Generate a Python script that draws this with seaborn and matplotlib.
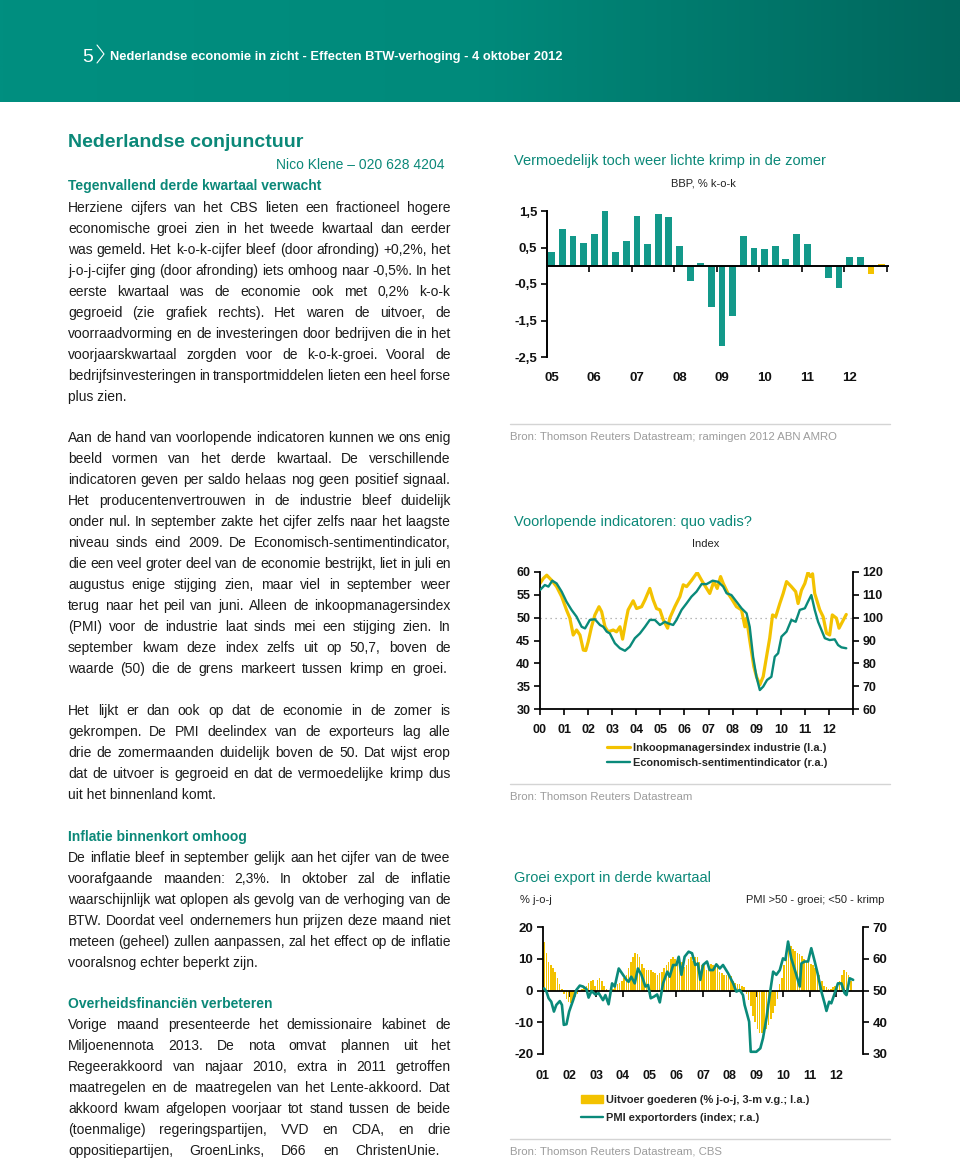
import numpy as np
import pandas as pd
import matplotlib
matplotlib.use("Agg")
import matplotlib.pyplot as plt
import seaborn as sns
from matplotlib.lines import Line2D
from matplotlib.patches import Patch
from matplotlib.colors import LinearSegmentedColormap

# ---------------- data ----------------
# Chart 1: BBP % k-o-k, quarterly 2005K1 - 2012K4
quarters = [f"{y}K{q}" for y in range(2005, 2013) for q in range(1, 5)]
bbp = [0.37, 1.02, 0.81, 0.62, 0.86, 1.52, 0.39, 0.69,
       1.35, 0.60, 1.42, 1.33, 0.53, -0.41, 0.08, -1.14,
       -2.20, -1.37, 0.81, 0.50, 0.47, 0.55, 0.18, 0.88,
       0.60, 0.00, -0.34, -0.61, 0.25, 0.25, -0.22, 0.04]
bbp_kind = ["realisatie"] * 30 + ["raming"] * 2
year_labels_1 = ["05", "06", "07", "08", "09", "10", "11", "12"]
ytick_vals_1 = [-2.5, -1.5, -0.5, 0.5, 1.5]
ytick_labs_1 = ["-2,5", "-1,5", "-0,5", "0,5", "1,5"]

# Chart 2: PMI industrie (l.a.) and ESI (r.a.)
pmi_t = [2000.0, 2000.14, 2000.28, 2000.48, 2000.69, 2000.9, 2001.1, 2001.24, 2001.38, 2001.52,
         2001.66, 2001.8, 2001.9, 2002.0, 2002.14, 2002.28, 2002.45, 2002.56, 2002.7, 2002.83,
         2003.04, 2003.18, 2003.32, 2003.43, 2003.56, 2003.66, 2003.87, 2004.01, 2004.22, 2004.36,
         2004.56, 2004.7, 2004.84, 2004.98, 2005.12, 2005.3, 2005.39, 2005.6, 2005.81, 2005.95,
         2006.09, 2006.3, 2006.53, 2006.71, 2006.92, 2007.05, 2007.22, 2007.36, 2007.5, 2007.61,
         2007.81, 2007.95, 2008.16, 2008.37, 2008.51, 2008.58, 2008.71, 2008.88, 2008.99, 2009.13,
         2009.27, 2009.41, 2009.54, 2009.66, 2009.79, 2009.96, 2010.1, 2010.24, 2010.44, 2010.62,
         2010.72, 2010.86, 2011.0, 2011.13, 2011.23, 2011.32, 2011.41, 2011.62, 2011.76, 2011.9,
         2012.03, 2012.14, 2012.31, 2012.42, 2012.56, 2012.72]
pmi_v = [57.5, 58.6, 59.3, 58.2, 56.8, 54.6, 51.7, 49.9, 46.2, 47.3,
         46.2, 42.9, 42.8, 44.7, 48.0, 50.6, 52.4, 51.3, 48.0, 46.9,
         47.3, 46.9, 48.0, 45.3, 49.1, 51.7, 53.7, 52.0, 52.4, 53.9,
         56.4, 53.9, 52.0, 51.7, 49.5, 47.7, 49.9, 52.4, 54.6, 57.2,
         56.8, 58.2, 59.9, 58.2, 56.4, 55.3, 57.9, 56.4, 59.0, 57.5,
         55.3, 54.2, 52.4, 51.7, 48.0, 49.9, 45.1, 39.3, 37.1, 35.3,
         37.1, 41.5, 45.5, 50.6, 50.2, 53.1, 55.3, 57.9, 56.8, 55.7,
         53.1, 56.0, 57.5, 59.9, 59.0, 59.6, 55.3, 51.7, 50.2, 46.6,
         46.2, 50.6, 49.9, 47.7, 49.1, 50.7]
esi_t = [2000.0, 2000.2, 2000.35, 2000.51, 2000.69, 2000.9, 2001.1, 2001.31, 2001.52, 2001.73,
         2001.87, 2002.07, 2002.28, 2002.49, 2002.63, 2002.77, 2002.9, 2003.11, 2003.32, 2003.53,
         2003.73, 2003.94, 2004.15, 2004.36, 2004.56, 2004.77, 2004.98, 2005.19, 2005.32, 2005.53,
         2005.67, 2005.88, 2006.09, 2006.29, 2006.5, 2006.71, 2006.92, 2007.17, 2007.4, 2007.61,
         2007.75, 2007.95, 2008.16, 2008.37, 2008.58, 2008.71, 2008.85, 2008.99, 2009.13, 2009.27,
         2009.43, 2009.61, 2009.75, 2009.89, 2010.03, 2010.24, 2010.44, 2010.62, 2010.79, 2011.0,
         2011.13, 2011.27, 2011.41, 2011.55, 2011.69, 2011.83, 2012.03, 2012.24, 2012.38, 2012.52,
         2012.72]
esi_v = [112.1, 114.3, 113.6, 116.2, 115.0, 111.4, 107.0, 103.4, 100.4, 96.0,
         95.3, 99.0, 99.3, 96.8, 96.0, 93.9, 93.1, 88.8, 86.6, 85.5,
         87.3, 91.0, 93.1, 96.0, 99.0, 99.0, 96.8, 98.2, 97.5, 96.8,
         99.0, 103.4, 106.3, 109.2, 111.4, 114.7, 114.7, 116.2, 115.7, 113.6,
         110.7, 109.9, 107.0, 104.1, 101.9, 96.0, 82.9, 74.1, 68.3, 69.8,
         72.7, 74.1, 82.9, 84.4, 91.7, 93.9, 99.0, 98.2, 103.4, 104.1,
         107.0, 109.9, 103.4, 98.2, 94.6, 91.0, 90.2, 90.5, 88.0, 87.0,
         86.6]
year_labels_2 = ["00", "01", "02", "03", "04", "05", "06", "07", "08", "09", "10", "11", "12"]

# Chart 3: export growth (monthly, l.a.) and PMI export orders (r.a.)
export_months = pd.date_range("2001-01-01", "2012-07-01", freq="MS")
export_v = [15.5, 12, 9.2, 8.1, 7, 6, 4, 2, 0.5, -1, -2.5, -3.5,
            -4, -3.5, -2, -1, -0.5, 0.5, 1, 1.5, 2.5, 3, 3.5, 1.5,
            3.5, 4, 3, 1.5, 0.5, 0, -0.5, 0.5, 1.5, 2, 2.5, 3,
            4, 5, 7, 9, 10.5, 11.8, 11.5, 10.5, 8.5, 7, 6.5, 6.5,
            6.5, 6, 5.5, 5, 5.5, 6, 7, 8, 9, 10, 10.5, 10,
            10.5, 10.5, 9, 7.5, 8, 10, 10.5, 9.5, 10.5, 10.5, 9, 8,
            8, 6.5, 8, 8.5, 8, 7, 7.5, 6, 5.5, 5, 5, 4.5,
            4.5, 3, 2.5, 2, 2, 1.5, 1, -1, -3, -5, -8, -10,
            -12, -13.5, -13.5, -13, -12, -11, -9, -7, -5, -2.5, 2, 4,
            8, 12, 14.5, 14, 13, 12.5, 12, 11.5, 11, 10, 9.5, 9,
            8.5, 8, 7, 6, 5, 3, 1.5, 1, 0.5, 0.5, 1, 1.5,
            2, 3, 5, 6.5, 6, 5, 3]
pmix_t = [2001.04, 2001.13, 2001.21, 2001.31, 2001.41, 2001.5, 2001.63, 2001.71, 2001.78, 2001.88,
          2001.98, 2002.13, 2002.25, 2002.38, 2002.5, 2002.63, 2002.71, 2002.82, 2002.96, 2003.09,
          2003.25, 2003.34, 2003.46, 2003.59, 2003.69, 2003.84, 2003.96, 2004.13, 2004.21, 2004.31,
          2004.44, 2004.56, 2004.69, 2004.84, 2004.94, 2005.04, 2005.16, 2005.28, 2005.38, 2005.5,
          2005.66, 2005.75, 2005.88, 2006.0, 2006.09, 2006.19, 2006.31, 2006.46, 2006.59, 2006.71,
          2006.81, 2006.9, 2007.0, 2007.15, 2007.25, 2007.38, 2007.5, 2007.63, 2007.75, 2007.94,
          2008.13, 2008.25, 2008.38, 2008.5, 2008.56, 2008.73, 2008.79, 2009.0, 2009.15, 2009.25,
          2009.38, 2009.5, 2009.63, 2009.75, 2009.88, 2010.0, 2010.09, 2010.19, 2010.31, 2010.5,
          2010.63, 2010.69, 2010.81, 2010.94, 2011.06, 2011.19, 2011.31, 2011.44, 2011.56, 2011.63,
          2011.73, 2011.81, 2011.94, 2012.06, 2012.19, 2012.31, 2012.38, 2012.5, 2012.63]
pmix_v = [50.7, 49.7, 47.6, 46.5, 43.4, 45.5, 46.7, 45.5, 39.2, 39.4,
          43.4, 47.0, 50.2, 51.6, 51.3, 50.5, 47.8, 49.9, 48.8, 49.2,
          47.0, 48.6, 45.7, 52.3, 51.3, 57.0, 55.5, 53.4, 52.8, 54.4,
          52.3, 57.0, 55.0, 51.3, 51.8, 47.6, 48.1, 48.8, 46.3, 52.3,
          56.0, 54.4, 58.1, 58.1, 60.7, 55.0, 60.7, 62.3, 61.8, 58.1,
          58.6, 53.4, 58.1, 59.2, 56.5, 56.5, 58.3, 57.0, 58.1, 55.5,
          52.3, 49.7, 50.2, 48.6, 45.5, 40.2, 30.7, 30.7, 31.8, 35.0,
          41.3, 48.6, 56.0, 55.0, 56.5, 60.2, 59.7, 65.5, 60.2, 55.0,
          51.3, 58.6, 59.2, 59.2, 63.4, 59.2, 55.0, 49.7, 46.0, 43.6,
          46.5, 46.0, 49.2, 52.3, 52.3, 49.2, 48.6, 53.9, 53.4]
year_labels_3 = ["01", "02", "03", "04", "05", "06", "07", "08", "09", "10", "11", "12"]

# ---------------- styling ----------------
W, H = 960, 1159
sns.set_style("white")
plt.rcParams['font.family'] = ['Liberation Sans', 'DejaVu Sans']
plt.rcParams['axes.unicode_minus'] = False
TEAL_TXT = '#0b8878'
TEAL_BAR = '#13998a'
TEAL_LINE = '#0a8a7a'
YELLOW = '#f3c200'
GREY = '#9c9c9c'
BODY = '#1c1c1c'

fig = plt.figure(figsize=(W / 100, H / 100), dpi=100)
fig.patch.set_facecolor('white')


def fx(px):
    return px / W


def fy(py):
    return 1 - py / H


# ---------------- header ----------------
axh = fig.add_axes([0, fy(102), 1, 102 / H])
cmap = LinearSegmentedColormap.from_list("hdr", ["#008f80", "#008a7b", "#00675d"])
axh.imshow(np.linspace(0, 1, 512).reshape(1, -1), aspect='auto', cmap=cmap, extent=[0, 1, 0, 1])
axh.set_axis_off()
fig.text(fx(88), fy(62), "5", color='white', fontsize=14, ha='center', va='baseline')
fig.add_artist(Line2D([fx(97), fx(104), fx(97)], [fy(45), fy(54), fy(63)], color='white', lw=0.8,
                      transform=fig.transFigure))
fig.text(fx(110), fy(60), "Nederlandse economie in zicht - Effecten BTW-verhoging - 4 oktober 2012",
         color='white', fontsize=9.3, fontweight='bold', va='baseline')

# ---------------- left column text ----------------
renderer = fig.canvas.get_renderer()
X0, X1 = 68, 450.5


def paragraph(lines, base_y, dy=21, size=10, color=BODY, last_right=None):
    for i, line in enumerate(lines):
        y = base_y + i * dy
        right = X1
        if i == len(lines) - 1:
            if last_right is None:
                fig.text(fx(X0), fy(y), line, fontsize=size, color=color, va='baseline')
                continue
            right = last_right
        words = line.split(' ')
        ts = [fig.text(0, 0, w, fontsize=size, color=color, va='baseline') for w in words]
        widths = [t.get_window_extent(renderer).width for t in ts]
        gap = (right - X0 - sum(widths)) / max(len(words) - 1, 1)
        x = X0
        for t, w in zip(ts, widths):
            t.set_position((fx(x), fy(y)))
            x += w + gap


def heading(text, y, size=10):
    fig.text(fx(X0), fy(y), text, fontsize=size, color=TEAL_TXT, fontweight='bold', va='baseline')


fig.text(fx(X0), fy(147), "Nederlandse conjunctuur", fontsize=14, color=TEAL_TXT,
         fontweight='bold', va='baseline')
fig.text(fx(445), fy(169), "Nico Klene \u2013 020 628 4204", fontsize=10, color=TEAL_TXT,
         ha='right', va='baseline')
heading("Tegenvallend derde kwartaal verwacht", 190)
paragraph([
    "Herziene cijfers van het CBS lieten een fractioneel hogere",
    "economische groei zien in het tweede kwartaal dan eerder",
    "was gemeld. Het k-o-k-cijfer bleef (door afronding) +0,2%, het",
    "j-o-j-cijfer ging (door afronding) iets omhoog naar -0,5%. In het",
    "eerste kwartaal was de economie ook met 0,2% k-o-k",
    "gegroeid (zie grafiek rechts). Het waren de uitvoer, de",
    "voorraadvorming en de investeringen door bedrijven die in het",
    "voorjaarskwartaal zorgden voor de k-o-k-groei. Vooral de",
    "bedrijfsinvesteringen in transportmiddelen lieten een heel forse",
    "plus zien.",
], 212)
paragraph([
    "Aan de hand van voorlopende indicatoren kunnen we ons enig",
    "beeld vormen van het derde kwartaal. De verschillende",
    "indicatoren geven per saldo helaas nog geen positief signaal.",
    "Het producentenvertrouwen in de industrie bleef duidelijk",
    "onder nul. In september zakte het cijfer zelfs naar het laagste",
    "niveau sinds eind 2009. De Economisch-sentimentindicator,",
    "die een veel groter deel van de economie bestrijkt, liet in juli en",
    "augustus enige stijging zien, maar viel in september weer",
    "terug naar het peil van juni. Alleen de inkoopmanagersindex",
    "(PMI) voor de industrie laat sinds mei een stijging zien. In",
    "september kwam deze index zelfs uit op 50,7, boven de",
    "waarde (50) die de grens markeert tussen krimp en groei.",
], 442, last_right=447)
paragraph([
    "Het lijkt er dan ook op dat de economie in de zomer is",
    "gekrompen. De PMI deelindex van de exporteurs lag alle",
    "drie de zomermaanden duidelijk boven de 50. Dat wijst erop",
    "dat de uitvoer is gegroeid en dat de vermoedelijke krimp dus",
    "uit het binnenland komt.",
], 715)
heading("Inflatie binnenkort omhoog", 841)
paragraph([
    "De inflatie bleef in september gelijk aan het cijfer van de twee",
    "voorafgaande maanden: 2,3%. In oktober zal de inflatie",
    "waarschijnlijk wat oplopen als gevolg van de verhoging van de",
    "BTW. Doordat veel ondernemers hun prijzen deze maand niet",
    "meteen (geheel) zullen aanpassen, zal het effect op de inflatie",
    "vooralsnog echter beperkt zijn.",
], 862)
heading("Overheidsfinanci\u00ebn verbeteren", 1008)
paragraph([
    "Vorige maand presenteerde het demissionaire kabinet de",
    "Miljoenennota 2013. De nota omvat plannen uit het",
    "Regeerakkoord van najaar 2010, extra in 2011 getroffen",
    "maatregelen en de maatregelen van het Lente-akkoord. Dat",
    "akkoord kwam afgelopen voorjaar tot stand tussen de beide",
    "(toenmalige) regeringspartijen, VVD en CDA, en drie",
    "oppositiepartijen, GroenLinks, D66 en ChristenUnie.",
], 1029, last_right=440)

# ---------------- right column titles / sources ----------------
def chart_title(text, y):
    fig.text(fx(514), fy(y), text, fontsize=10.5, color=TEAL_TXT, va='baseline')


def source(text, y):
    fig.add_artist(Line2D([fx(510), fx(890)], [fy(y - 12), fy(y - 12)], color='#d4d4d4', lw=1,
                          transform=fig.transFigure))
    fig.text(fx(510), fy(y + 4), text, fontsize=8.2, color=GREY, va='baseline')


chart_title("Vermoedelijk toch weer lichte krimp in de zomer", 165)
fig.text(fx(703), fy(187), "BBP, % k-o-k", fontsize=8, color='#222222', ha='center', va='baseline')
source("Bron: Thomson Reuters Datastream; ramingen 2012 ABN AMRO", 436)

chart_title("Voorlopende indicatoren: quo vadis?", 526)
fig.text(fx(706), fy(547), "Index", fontsize=8, color='#222222', ha='center', va='baseline')
source("Bron: Thomson Reuters Datastream", 796)

chart_title("Groei export in derde kwartaal", 882)
fig.text(fx(520), fy(903), "% j-o-j", fontsize=8, color='#222222', va='baseline')
fig.text(fx(884), fy(903), "PMI >50 - groei; <50 - krimp", fontsize=8, color='#222222',
         ha='right', va='baseline')
source("Bron: Thomson Reuters Datastream, CBS", 1151)


def bold_ticks(ax, size):
    for lab in ax.get_xticklabels() + ax.get_yticklabels():
        lab.set_fontweight('bold')
        lab.set_fontsize(size)
        lab.set_color('#111111')


# ---------------- chart 1 ----------------
ax1 = fig.add_axes([fx(547), fy(357), (888 - 547) / W, (357 - 211) / H])
df1 = pd.DataFrame({"kwartaal": quarters, "bbp": bbp, "soort": bbp_kind})
sns.barplot(data=df1, x="kwartaal", y="bbp", hue="soort", dodge=False, legend=False,
            palette={"realisatie": TEAL_BAR, "raming": YELLOW}, width=0.64, saturation=1,
            linewidth=0, edgecolor='none', ax=ax1)
ax1.set_xlim(-0.45, len(quarters) - 0.4)
ax1.set_ylim(-2.5, 1.5)
ax1.set_xlabel("")
ax1.set_ylabel("")
for s in ["top", "right"]:
    ax1.spines[s].set_visible(False)
ax1.spines["bottom"].set_position(("data", 0))
for s in ["left", "bottom"]:
    ax1.spines[s].set_color('black')
    ax1.spines[s].set_linewidth(1.4)
ax1.set_yticks(ytick_vals_1)
ax1.set_yticklabels(ytick_labs_1)
n_years1 = len(year_labels_1)
ax1.set_xticks([4 * (i + 1) - 0.5 for i in range(n_years1)])
ax1.set_xticklabels([])
ax1.tick_params(axis='both', direction='out', length=4, width=1.2, color='black', left=True,
                bottom=True, pad=3)
bold_ticks(ax1, 9.5)
for i, lab in enumerate(year_labels_1):
    ax1.text(4 * i, -0.145, lab, transform=ax1.get_xaxis_transform(), ha='center', va='center',
             fontsize=9.5, fontweight='bold', color='#111111')
ax1.set_facecolor('none')

# ---------------- chart 2 ----------------
ax2 = fig.add_axes([fx(540), fy(709), (853 - 540) / W, (709 - 572) / H])
sns.lineplot(x=pmi_t, y=pmi_v, color=YELLOW, lw=2.3, ax=ax2)
ax2.axhline(50, color='#a0a0a0', ls=(0, (1, 3)), lw=0.9, zorder=0)
ax2r = ax2.twinx()
sns.lineplot(x=esi_t, y=esi_v, color=TEAL_LINE, lw=1.7, ax=ax2r)
ax2.set_xlim(2000, 2013)
ax2.set_ylim(30, 60)
ax2r.set_ylim(60, 120)
ax2.set_yticks([30, 35, 40, 45, 50, 55, 60])
ax2r.set_yticks([60, 70, 80, 90, 100, 110, 120])
ax2.set_xticks(range(2000, 2000 + len(year_labels_2) + 1))
ax2.set_xticklabels(year_labels_2 + [""])
for a in (ax2, ax2r):
    a.set_xlabel("")
    a.set_ylabel("")
    a.spines["top"].set_visible(False)
    for s in a.spines.values():
        s.set_color('black')
        s.set_linewidth(1.3)
ax2.spines["right"].set_visible(False)
ax2r.spines["left"].set_visible(False)
ax2r.spines["bottom"].set_visible(False)
ax2.tick_params(axis='both', direction='out', length=4, width=1.2, color='black', left=True,
                bottom=True, pad=3)
ax2.tick_params(axis='x', pad=7)
ax2r.tick_params(axis='y', direction='out', length=4, width=1.2, color='black', right=True, pad=3)
bold_ticks(ax2, 9)
bold_ticks(ax2r, 9)
fig.legend([Line2D([], [], color=YELLOW, lw=2.3), Line2D([], [], color=TEAL_LINE, lw=1.7)],
           ["Inkoopmanagersindex industrie (l.a.)", "Economisch-sentimentindicator (r.a.)"],
           loc='upper left', bbox_to_anchor=(fx(607), fy(743)), frameon=False,
           prop=dict(weight='bold', size=7.9), handlelength=2.1,
           handletextpad=0.3, labelspacing=0.42, borderpad=0, borderaxespad=0)

# ---------------- chart 3 ----------------
ax3 = fig.add_axes([fx(543), fy(1054), (863 - 543) / W, (1054 - 927.3) / H])
export_t = export_months.year + (export_months.month - 1) / 12 + 1 / 24
sns.barplot(x=np.asarray(export_t), y=export_v, native_scale=True, orient='x', color=YELLOW,
            saturation=1, width=0.72, linewidth=0, edgecolor='none', ax=ax3)
ax3r = ax3.twinx()
sns.lineplot(x=pmix_t, y=pmix_v, color=TEAL_LINE, lw=1.9, ax=ax3r)
ax3.set_xlim(2001, 2013)
ax3.set_ylim(-20, 20)
ax3r.set_ylim(30, 70)
ax3.set_yticks([-20, -10, 0, 10, 20])
ax3r.set_yticks([30, 40, 50, 60, 70])
ax3.set_xticks(range(2002, 2001 + len(year_labels_3)))
ax3.set_xticklabels([])
for a in (ax3, ax3r):
    a.set_xlabel("")
    a.set_ylabel("")
    a.spines["top"].set_visible(False)
    for s in a.spines.values():
        s.set_color('black')
        s.set_linewidth(1.3)
ax3.spines["right"].set_visible(False)
ax3.spines["bottom"].set_position(("data", 0))
ax3r.spines["left"].set_visible(False)
ax3r.spines["bottom"].set_visible(False)
ax3.tick_params(axis='both', direction='out', length=4, width=1.2, color='black', left=True,
                bottom=True, pad=3)
ax3r.tick_params(axis='y', direction='out', length=4, width=1.2, color='black', right=True, pad=3)
bold_ticks(ax3, 9.5)
bold_ticks(ax3r, 9.5)
for i, lab in enumerate(year_labels_3):
    ax3.text(2001 + i, -0.17, lab, transform=ax3.get_xaxis_transform(), ha='center',
             va='center', fontsize=9, fontweight='bold', color='#111111')
fig.legend([Patch(color=YELLOW), Line2D([], [], color=TEAL_LINE, lw=1.7)],
           ["Uitvoer goederen (% j-o-j, 3-m v.g.; l.a.)", "PMI exportorders (index; r.a.)"],
           loc='upper left', bbox_to_anchor=(fx(581), fy(1095)), frameon=False,
           prop=dict(weight='bold', size=7.9), handlelength=2.0,
           handletextpad=0.3, labelspacing=0.75, borderpad=0, borderaxespad=0)

fig.savefig("out.png", dpi=100, facecolor='white')
